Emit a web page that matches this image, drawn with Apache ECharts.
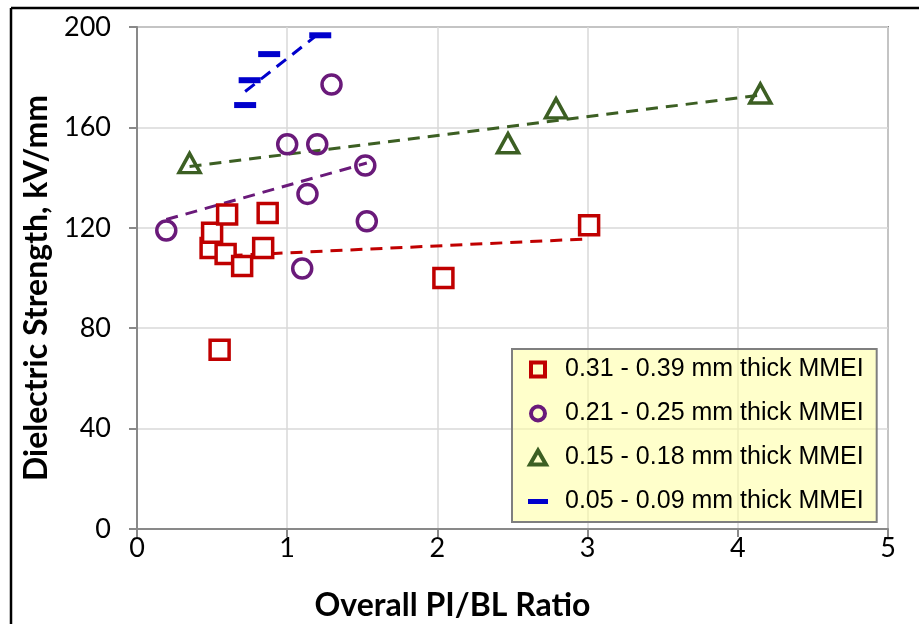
<!DOCTYPE html>
<html>
<head>
<meta charset="utf-8">
<script src="https://cdn.jsdelivr.net/npm/echarts@6/dist/echarts.min.js"></script>
<style>
  html, body { margin: 0; padding: 0; background: #fff; }
  #DsChart { width: 919px; height: 624px; }
</style>
</head>
<body>
<div id="DsChart"></div>
<script>
// data: [PI/BL ratio, kV/mm]
const thick31_39 = [
  [0.49, 112], [0.50, 118], [0.55, 71.4], [0.60, 125.3], [0.59, 109.6],
  [0.70, 104.8], [0.84, 112], [0.87, 125.9], [2.04, 100], [3.01, 121]
];
const thick21_25 = [
  [0.195, 118.9], [1.0, 153.3], [1.10, 103.8], [1.135, 133.5],
  [1.20, 153.3], [1.295, 177.1], [1.52, 144.8], [1.53, 122.6]
];
const thick15_18 = [[0.35, 145.8], [2.47, 153.7], [2.79, 167.6], [4.15, 173.5]];
const thick05_09 = [[0.72, 168.9], [0.75, 178.8], [0.88, 189.2], [1.22, 196.7]];

// trendline end points, also
const trend31_39 = [[0.49, 108.6], [3.01, 115.6]];
const trend21_25 = [[0.195, 123.3], [1.53, 145.8]];
const trend15_18 = [[0.35, 144.4], [4.15, 172.9]];
const trend05_09 = [[0.72, 174.3], [1.22, 197.8]];

const seriesNames = [
  "0.31 - 0.39 mm thick MMEI",
  "0.21 - 0.25 mm thick MMEI",
  "0.15 - 0.18 mm thick MMEI",
  "0.05 - 0.09 mm thick MMEI"
];
const xTicks = [0, 5, 1];
const yTicks = [0, 200, 40];

const RED = "#C00000";
const PURPLE = "#6A1A7A";
const GREEN = "#3C5F23";
const BLUE = "#0000CC";
const AXIS = "#898989";

// legend icons: the two leading moves pin the box at 44x18 so nothing gets stretched
const BOX = "path://M0,0M44,18";
const ICON_SQUARE = BOX + "M15,2H29V16H15Z";
const ICON_CIRCLE = BOX + "M15,9A7,7 0 1,1 29,9A7,7 0 1,1 15,9Z";
const ICON_TRIANGLE = BOX + "M22,2L30,16H14Z";
const ICON_DASH = BOX + "M12,6.5H32V11.5H12Z";

const el = document.getElementById("DsChart");
const chart = echarts.init(el);

function trend(name, data, color) {
  return {
    name: name,
    type: "line",
    data: data,
    showSymbol: false,
    silent: true,
    z: 1,
    lineStyle: { color: color, width: 3, type: [12, 8] }
  };
}

const options = {
  animation: false,
  grid: {
    left: 137,
    right: 31,
    top: 27,
    bottom: 95,
    outerBoundsMode: "none",
    containLabel: false,
    show: true,
    borderColor: AXIS,
    borderWidth: 2,
    backgroundColor: "transparent"
  },
  xAxis: {
    type: "value",
    min: xTicks[0],
    max: xTicks[1],
    interval: xTicks[2],
    name: "Overall PI/BL Ratio",
    nameLocation: "middle",
    nameGap: 61,
    nameTextStyle: {
      fontFamily: "Lato",
      fontWeight: "bold",
      fontSize: 32,
      color: "#000",
      padding: [0, 120, 0, 0]
    },
    axisLine: { lineStyle: { color: AXIS, width: 2 } },
    axisTick: { show: true, length: 8, lineStyle: { color: AXIS, width: 2 } },
    axisLabel: { fontFamily: "Lato", fontSize: 27, color: "#000", margin: 6 },
    splitLine: { lineStyle: { color: "#D9D9D9", width: 1.5 } }
  },
  yAxis: {
    type: "value",
    min: yTicks[0],
    max: yTicks[1],
    interval: yTicks[2],
    name: "Dielectric Strength, kV/mm",
    nameLocation: "middle",
    nameGap: 82,
    nameTextStyle: {
      fontFamily: "Lato",
      fontWeight: "bold",
      fontSize: 32,
      color: "#000",
      padding: [0, 20, 0, 0]
    },
    axisLine: { show: true, lineStyle: { color: AXIS, width: 2 } },
    axisTick: { show: true, length: 8, lineStyle: { color: AXIS, width: 2 } },
    axisLabel: { fontFamily: "Lato", fontSize: 27, color: "#000", margin: 26 },
    splitLine: { lineStyle: { color: "#D9D9D9", width: 1.5 } }
  },
  legend: {
    orient: "vertical",
    left: 512,
    top: 349,
    padding: [8, 13, 8, 2],
    itemGap: 19,
    itemWidth: 44,
    itemHeight: 18,
    backgroundColor: "rgba(255,255,160,0.55)",
    borderColor: "#7F7F7F",
    borderWidth: 2,
    borderRadius: 0,
    textStyle: { fontFamily: "Liberation Sans", fontSize: 25, color: "#000" },
    data: [
      { name: seriesNames[0], icon: ICON_SQUARE,
        itemStyle: { color: "transparent", borderColor: RED, borderWidth: 4, opacity: 1 } },
      { name: seriesNames[1], icon: ICON_CIRCLE,
        itemStyle: { color: "transparent", borderColor: PURPLE, borderWidth: 4, opacity: 1 } },
      { name: seriesNames[2], icon: ICON_TRIANGLE,
        itemStyle: { color: "transparent", borderColor: GREEN, borderWidth: 4, opacity: 1 } },
      { name: seriesNames[3], icon: ICON_DASH,
        itemStyle: { color: BLUE, borderWidth: 0, opacity: 1 } }
    ]
  },
  graphic: [
    { type: "line", shape: { x1: 11, y1: 8, x2: 11, y2: 624 },
      style: { stroke: "#000", lineWidth: 2.5 } },
    { type: "line", shape: { x1: 11, y1: 8, x2: 919, y2: 8 },
      style: { stroke: "#000", lineWidth: 2.5 } }
  ],
  series: [
    trend("trend a", trend31_39, RED),
    trend("trend b", trend21_25, PURPLE),
    trend("trend c", trend15_18, GREEN),
    trend("trend d", trend05_09, BLUE),
    {
      name: seriesNames[0],
      type: "scatter",
      data: thick31_39,
      symbol: "rect",
      symbolSize: 19,
      itemStyle: { color: "#fff", borderColor: RED, borderWidth: 3.5, opacity: 1 }
    },
    {
      name: seriesNames[1],
      type: "scatter",
      data: thick21_25,
      symbol: "circle",
      symbolSize: 19,
      itemStyle: { color: "transparent", borderColor: PURPLE, borderWidth: 3.5, opacity: 1 }
    },
    {
      name: seriesNames[2],
      type: "scatter",
      data: thick15_18,
      symbol: "triangle",
      symbolSize: [21, 19],
      itemStyle: { color: "transparent", borderColor: GREEN, borderWidth: 3.5, opacity: 1 }
    },
    {
      name: seriesNames[3],
      type: "scatter",
      data: thick05_09,
      symbol: "rect",
      symbolSize: [22, 6],
      itemStyle: { color: BLUE, opacity: 1 }
    }
  ]
};
chart.setOption(options);
</script>
</body>
</html>
